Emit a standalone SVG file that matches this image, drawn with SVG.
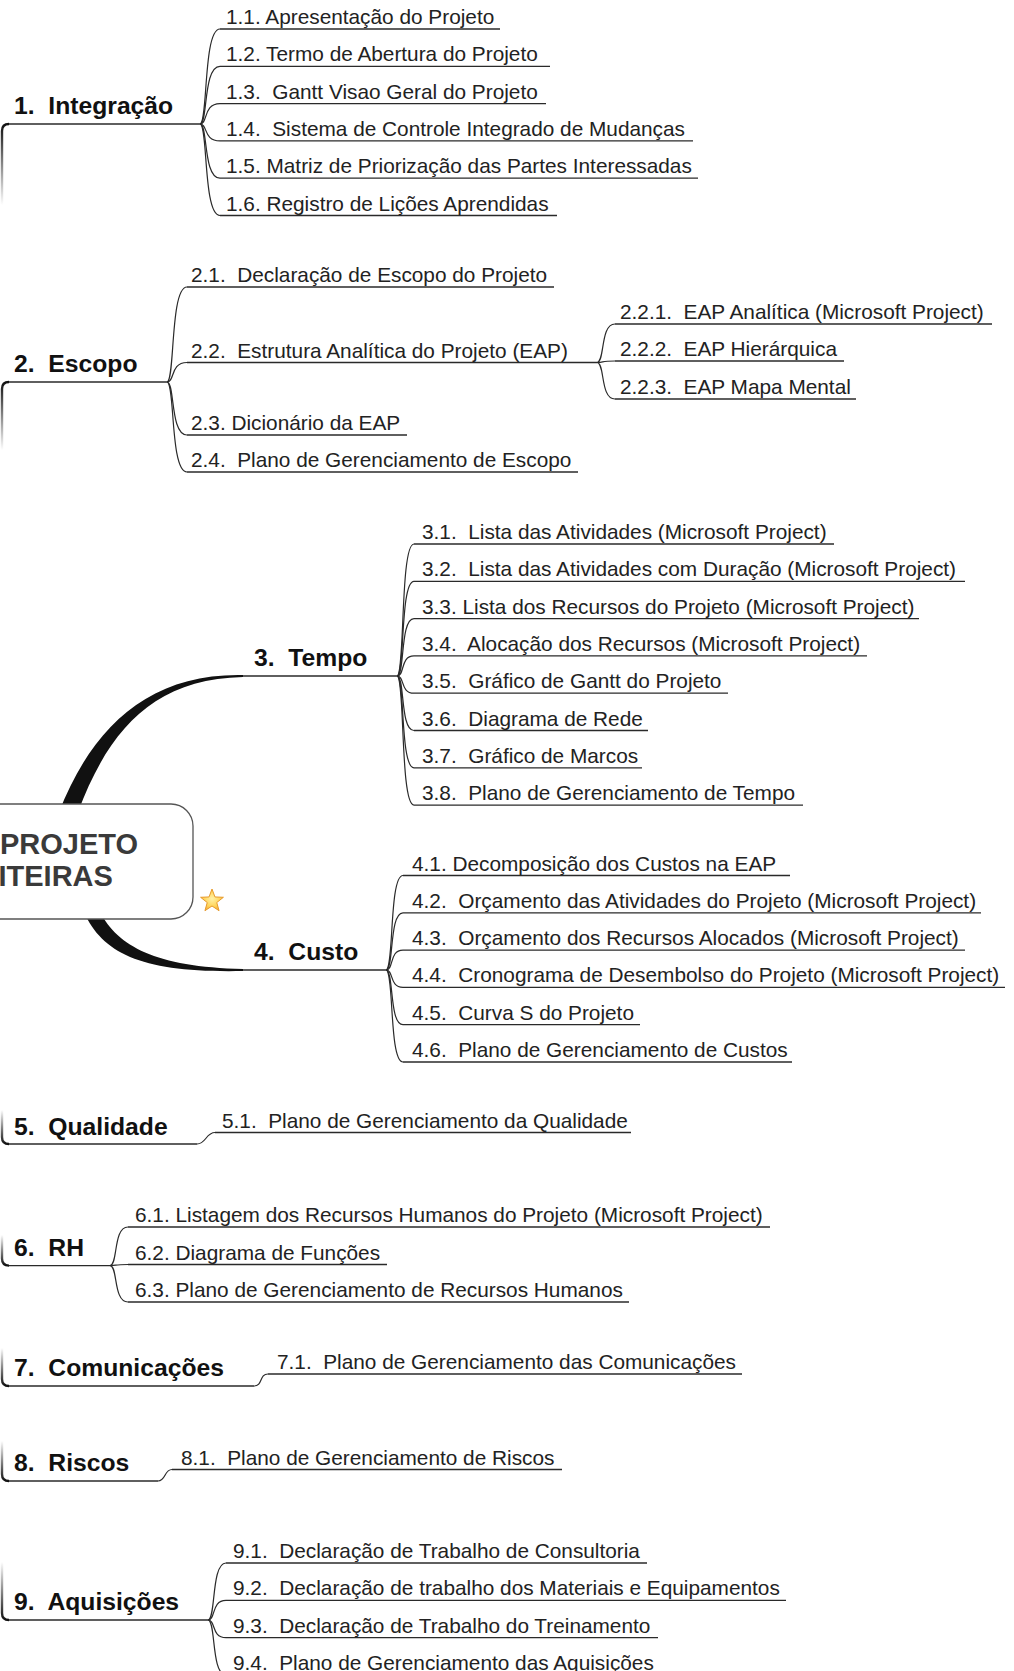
<svg xmlns="http://www.w3.org/2000/svg" width="1014" height="1671" viewBox="0 0 1014 1671">
<defs>
<style>
.h{font-family:"Liberation Sans",Arial,sans-serif;font-weight:bold;font-size:24.7px;fill:#111}
.c{font-family:"Liberation Sans",Arial,sans-serif;font-size:20.8px;fill:#222}
.r{font-family:"Liberation Sans",Arial,sans-serif;font-weight:bold;font-size:29px;fill:#3a3a3a}
.u{stroke:#2a2a2a;stroke-width:1.3;fill:none}
.k{stroke:#2a2a2a;stroke-width:1.2;fill:none}
.fd{stroke:url(#fadeDown);stroke-width:2.4;fill:none}
.fu{stroke:url(#fadeUp);stroke-width:2.4;fill:none}
.thick{fill:#111;stroke:none}
</style>
<linearGradient id="fadeDown" x1="0" y1="0" x2="0" y2="1"><stop offset="0" stop-color="#111"/><stop offset="1" stop-color="#111" stop-opacity="0"/></linearGradient>
<linearGradient id="fadeUp" x1="0" y1="0" x2="0" y2="1"><stop offset="0" stop-color="#111" stop-opacity="0"/><stop offset="1" stop-color="#111"/></linearGradient>
<radialGradient id="starG" cx="0.5" cy="0.45" r="0.6"><stop offset="0" stop-color="#fff2a8"/><stop offset="0.6" stop-color="#ffd45a"/><stop offset="1" stop-color="#f4a93a"/></radialGradient>
</defs>
<rect width="1014" height="1671" fill="#fff"/>

<g id="connectors">
  <path class="thick" d="M59,812 C92,728 148,673 243,675 L243,677 C152,679 108,732 78,812 Z"/>
  <path class="thick" d="M100,912 C118,946 155,967 243,969 L243,971 C145,973 103,955 84,912 Z"/>
  <path class="fd" d="M2,205 V131 Q2,124 9,124"/>
  <path class="fd" d="M2,450 V389 Q2,382 9,382"/>
  <path class="fu" d="M2,1110 V1137 Q2,1144 9,1144"/>
  <path class="fu" d="M2,1235 V1258.6 Q2,1265.6 9,1265.6"/>
  <path class="fu" d="M2,1348 V1379 Q2,1386 9,1386"/>
  <path class="fu" d="M2,1441 V1474 Q2,1481 9,1481"/>
  <path class="fu" d="M2,1562 V1613 Q2,1620 9,1620"/>
  <path class="k" d="M200,124 C208,124 203,29 220,29"/>
  <path class="k" d="M200,124 C208,124 203,66.3 220,66.3"/>
  <path class="k" d="M200,124 C208,124 203,103.6 220,103.6"/>
  <path class="k" d="M200,124 C208,124 203,140.9 220,140.9"/>
  <path class="k" d="M200,124 C208,124 203,178.2 220,178.2"/>
  <path class="k" d="M200,124 C208,124 203,215.5 220,215.5"/>
  <path class="k" d="M167,382 C175,382 170,287 187,287"/>
  <path class="k" d="M167,382 C175,382 170,362.5 187,362.5"/>
  <path class="k" d="M167,382 C175,382 170,435 187,435"/>
  <path class="k" d="M167,382 C175,382 170,472 187,472"/>
  <path class="k" d="M597,362.5 C605,362.5 600,324 615,324"/>
  <path class="k" d="M597,362.5 C605,362.5 600,361 615,361"/>
  <path class="k" d="M597,362.5 C605,362.5 600,399 615,399"/>
  <path class="k" d="M397,676 C405,676 400,544 414,544"/>
  <path class="k" d="M397,676 C405,676 400,581.3 414,581.3"/>
  <path class="k" d="M397,676 C405,676 400,618.6 414,618.6"/>
  <path class="k" d="M397,676 C405,676 400,655.9 414,655.9"/>
  <path class="k" d="M397,676 C405,676 400,693.2 414,693.2"/>
  <path class="k" d="M397,676 C405,676 400,730.5 414,730.5"/>
  <path class="k" d="M397,676 C405,676 400,767.8 414,767.8"/>
  <path class="k" d="M397,676 C405,676 400,805.1 414,805.1"/>
  <path class="k" d="M386,970 C394,970 389,875.5 403,875.5"/>
  <path class="k" d="M386,970 C394,970 389,912.8 403,912.8"/>
  <path class="k" d="M386,970 C394,970 389,950.1 403,950.1"/>
  <path class="k" d="M386,970 C394,970 389,987.4 403,987.4"/>
  <path class="k" d="M386,970 C394,970 389,1024.7 403,1024.7"/>
  <path class="k" d="M386,970 C394,970 389,1062 403,1062"/>
  <path class="k" d="M197,1144 C206,1144 206,1132.5 215,1132.5"/>
  <path class="k" d="M110,1265.6 C118,1265.6 113,1227 128,1227"/>
  <path class="k" d="M110,1265.6 C118,1265.6 113,1264.5 128,1264.5"/>
  <path class="k" d="M110,1265.6 C118,1265.6 113,1302 128,1302"/>
  <path class="k" d="M254,1386 C263,1386 259,1374 268,1374"/>
  <path class="k" d="M158,1481 C166,1481 164,1469.5 172,1469.5"/>
  <path class="k" d="M208,1620 C216,1620 211,1563 226,1563"/>
  <path class="k" d="M208,1620 C216,1620 211,1600.3 226,1600.3"/>
  <path class="k" d="M208,1620 C216,1620 211,1637.6 226,1637.6"/>
  <path class="k" d="M208,1620 C216,1620 211,1674.9 226,1674.9"/>
</g>

<g id="root">
  <rect x="-40" y="804" width="233" height="115" rx="22" ry="22" fill="#fff" stroke="#555" stroke-width="1.3"/>
  <text class="r" x="0" y="854">PROJETO</text>
  <text class="r" x="-1.5" y="886">ITEIRAS</text>
  <polygon points="212,889 214.94,896.95 223.41,897.29 216.76,902.55 219.05,910.71 212,906 204.95,910.71 207.24,902.55 200.59,897.29 209.06,896.95" fill="url(#starG)" stroke="#e79a2c" stroke-width="1" stroke-linejoin="round"/>
</g>

<g id="n1"><text class="h" x="14" y="114">1.&#160; Integração</text><line class="u" x1="9" y1="124" x2="200" y2="124"/></g>
<g id="n1-1"><text class="c" x="226" y="24">1.1. Apresentação do Projeto</text><line class="u" x1="220" y1="29" x2="500" y2="29"/></g>
<g id="n1-2"><text class="c" x="226" y="61.3">1.2. Termo de Abertura do Projeto</text><line class="u" x1="220" y1="66.3" x2="550" y2="66.3"/></g>
<g id="n1-3"><text class="c" x="226" y="98.6">1.3.&#160; Gantt Visao Geral do Projeto</text><line class="u" x1="220" y1="103.6" x2="546" y2="103.6"/></g>
<g id="n1-4"><text class="c" x="226" y="135.9">1.4.&#160; Sistema de Controle Integrado de Mudanças</text><line class="u" x1="220" y1="140.9" x2="693" y2="140.9"/></g>
<g id="n1-5"><text class="c" x="226" y="173.2">1.5. Matriz de Priorização das Partes Interessadas</text><line class="u" x1="220" y1="178.2" x2="698" y2="178.2"/></g>
<g id="n1-6"><text class="c" x="226" y="210.5">1.6. Registro de Lições Aprendidas</text><line class="u" x1="220" y1="215.5" x2="557" y2="215.5"/></g>

<g id="n2"><text class="h" x="14" y="372">2.&#160; Escopo</text><line class="u" x1="9" y1="382" x2="167" y2="382"/></g>
<g id="n2-1"><text class="c" x="191" y="282">2.1.&#160; Declaração de Escopo do Projeto</text><line class="u" x1="187" y1="287" x2="554" y2="287"/></g>
<g id="n2-2"><text class="c" x="191" y="357.5">2.2.&#160; Estrutura Analítica do Projeto (EAP)</text><line class="u" x1="187" y1="362.5" x2="597" y2="362.5"/></g>
<g id="n2-3"><text class="c" x="191" y="430">2.3. Dicionário da EAP</text><line class="u" x1="187" y1="435" x2="407" y2="435"/></g>
<g id="n2-4"><text class="c" x="191" y="467">2.4.&#160; Plano de Gerenciamento de Escopo</text><line class="u" x1="187" y1="472" x2="578" y2="472"/></g>
<g id="n2-2-1"><text class="c" x="620" y="319">2.2.1.&#160; EAP Analítica (Microsoft Project)</text><line class="u" x1="615" y1="324" x2="992" y2="324"/></g>
<g id="n2-2-2"><text class="c" x="620" y="356">2.2.2.&#160; EAP Hierárquica</text><line class="u" x1="615" y1="361" x2="844" y2="361"/></g>
<g id="n2-2-3"><text class="c" x="620" y="394">2.2.3.&#160; EAP Mapa Mental</text><line class="u" x1="615" y1="399" x2="856" y2="399"/></g>

<g id="n3"><text class="h" x="254" y="666">3.&#160; Tempo</text><line class="u" x1="243" y1="676" x2="397" y2="676"/></g>
<g id="n3-1"><text class="c" x="422" y="539">3.1.&#160; Lista das Atividades (Microsoft Project)</text><line class="u" x1="414" y1="544" x2="834" y2="544"/></g>
<g id="n3-2"><text class="c" x="422" y="576.3">3.2.&#160; Lista das Atividades com Duração (Microsoft Project)</text><line class="u" x1="414" y1="581.3" x2="965" y2="581.3"/></g>
<g id="n3-3"><text class="c" x="422" y="613.6">3.3. Lista dos Recursos do Projeto (Microsoft Project)</text><line class="u" x1="414" y1="618.6" x2="919" y2="618.6"/></g>
<g id="n3-4"><text class="c" x="422" y="650.9">3.4.&#160; Alocação dos Recursos (Microsoft Project)</text><line class="u" x1="414" y1="655.9" x2="867" y2="655.9"/></g>
<g id="n3-5"><text class="c" x="422" y="688.2">3.5.&#160; Gráfico de Gantt do Projeto</text><line class="u" x1="414" y1="693.2" x2="728" y2="693.2"/></g>
<g id="n3-6"><text class="c" x="422" y="725.5">3.6.&#160; Diagrama de Rede</text><line class="u" x1="414" y1="730.5" x2="648" y2="730.5"/></g>
<g id="n3-7"><text class="c" x="422" y="762.8">3.7.&#160; Gráfico de Marcos</text><line class="u" x1="414" y1="767.8" x2="642" y2="767.8"/></g>
<g id="n3-8"><text class="c" x="422" y="800.1">3.8.&#160; Plano de Gerenciamento de Tempo</text><line class="u" x1="414" y1="805.1" x2="803" y2="805.1"/></g>

<g id="n4"><text class="h" x="254" y="960">4.&#160; Custo</text><line class="u" x1="243" y1="970" x2="386" y2="970"/></g>
<g id="n4-1"><text class="c" x="412" y="870.5">4.1. Decomposição dos Custos na EAP</text><line class="u" x1="403" y1="875.5" x2="790" y2="875.5"/></g>
<g id="n4-2"><text class="c" x="412" y="907.8">4.2.&#160; Orçamento das Atividades do Projeto (Microsoft Project)</text><line class="u" x1="403" y1="912.8" x2="981" y2="912.8"/></g>
<g id="n4-3"><text class="c" x="412" y="945.1">4.3.&#160; Orçamento dos Recursos Alocados (Microsoft Project)</text><line class="u" x1="403" y1="950.1" x2="965" y2="950.1"/></g>
<g id="n4-4"><text class="c" x="412" y="982.4">4.4.&#160; Cronograma de Desembolso do Projeto (Microsoft Project)</text><line class="u" x1="403" y1="987.4" x2="1005" y2="987.4"/></g>
<g id="n4-5"><text class="c" x="412" y="1019.7">4.5.&#160; Curva S do Projeto</text><line class="u" x1="403" y1="1024.7" x2="640" y2="1024.7"/></g>
<g id="n4-6"><text class="c" x="412" y="1057">4.6.&#160; Plano de Gerenciamento de Custos</text><line class="u" x1="403" y1="1062" x2="792" y2="1062"/></g>

<g id="n5"><text class="h" x="14" y="1135">5.&#160; Qualidade</text><line class="u" x1="9" y1="1144" x2="197" y2="1144"/></g>
<g id="n5-1"><text class="c" x="222" y="1127.5">5.1.&#160; Plano de Gerenciamento da Qualidade</text><line class="u" x1="215" y1="1132.5" x2="631" y2="1132.5"/></g>

<g id="n6"><text class="h" x="14" y="1256">6.&#160; RH</text><line class="u" x1="9" y1="1265.6" x2="110" y2="1265.6"/></g>
<g id="n6-1"><text class="c" x="135" y="1222">6.1. Listagem dos Recursos Humanos do Projeto (Microsoft Project)</text><line class="u" x1="128" y1="1227" x2="770" y2="1227"/></g>
<g id="n6-2"><text class="c" x="135" y="1259.5">6.2. Diagrama de Funções</text><line class="u" x1="128" y1="1264.5" x2="387" y2="1264.5"/></g>
<g id="n6-3"><text class="c" x="135" y="1297">6.3. Plano de Gerenciamento de Recursos Humanos</text><line class="u" x1="128" y1="1302" x2="629" y2="1302"/></g>

<g id="n7"><text class="h" x="14" y="1376">7.&#160; Comunicações</text><line class="u" x1="9" y1="1386" x2="254" y2="1386"/></g>
<g id="n7-1"><text class="c" x="277" y="1369">7.1.&#160; Plano de Gerenciamento das Comunicações</text><line class="u" x1="268" y1="1374" x2="742" y2="1374"/></g>

<g id="n8"><text class="h" x="14" y="1471">8.&#160; Riscos</text><line class="u" x1="9" y1="1481" x2="158" y2="1481"/></g>
<g id="n8-1"><text class="c" x="181" y="1464.5">8.1.&#160; Plano de Gerenciamento de Riscos</text><line class="u" x1="172" y1="1469.5" x2="562" y2="1469.5"/></g>

<g id="n9"><text class="h" x="14" y="1610">9.&#160; Aquisições</text><line class="u" x1="9" y1="1620" x2="208" y2="1620"/></g>
<g id="n9-1"><text class="c" x="233" y="1558">9.1.&#160; Declaração de Trabalho de Consultoria</text><line class="u" x1="226" y1="1563" x2="647" y2="1563"/></g>
<g id="n9-2"><text class="c" x="233" y="1595.3">9.2.&#160; Declaração de trabalho dos Materiais e Equipamentos</text><line class="u" x1="226" y1="1600.3" x2="786" y2="1600.3"/></g>
<g id="n9-3"><text class="c" x="233" y="1632.6">9.3.&#160; Declaração de Trabalho do Treinamento</text><line class="u" x1="226" y1="1637.6" x2="658" y2="1637.6"/></g>
<g id="n9-4"><text class="c" x="233" y="1669.9">9.4.&#160; Plano de Gerenciamento das Aquisições</text><line class="u" x1="226" y1="1674.9" x2="661" y2="1674.9"/></g>
</svg>
